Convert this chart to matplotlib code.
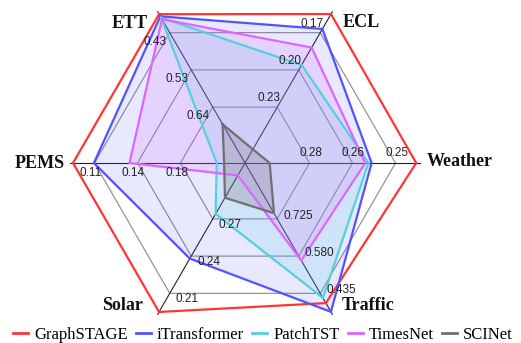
import numpy as np
import matplotlib
matplotlib.use("Agg")
import matplotlib.pyplot as plt

# Datasets, clockwise from the upper-left spoke
categories = ["ETT", "ECL", "Weather", "Traffic", "Solar", "PEMS"]

# Average MSE per dataset (lower is better)
graphstage   = [0.376, 0.157, 0.244, 0.397, 0.195, 0.090]
itransformer = [0.382, 0.169, 0.258, 0.363, 0.238, 0.107]
patchtst     = [0.386, 0.198, 0.259, 0.417, 0.274, 0.207]
timesnet     = [0.390, 0.184, 0.260, 0.563, 0.305, 0.136]
scinet       = [0.686, 0.266, 0.290, 0.747, 0.287, 0.213]

series_names = ["GraphSTAGE", "iTransformer", "PatchTST", "TimesNet", "SCINet"]

# Per-spoke scale: value at the centre and value at the outer rim
center_vals = [0.7955, 0.277, 0.29775, 0.9425, 0.315, 0.230]
rim_vals    = [0.3755, 0.157, 0.24375, 0.3625, 0.195, 0.090]

# Ring labels on each spoke, from inner ring to outer ring
tick_labels = [
    ["0.64", "0.53", "0.43"],
    ["0.23", "0.20", "0.17"],
    ["0.28", "0.26", "0.25"],
    ["0.725", "0.580", "0.435"],
    ["0.27", "0.24", "0.21"],
    ["0.18", "0.14", "0.11"],
]
ring_levels = [0.375, 0.625, 0.875]

colors = ["#ff3535", "#5252ff", "#55d0dc", "#dc66ff", "#707070"]
fill_alpha = [0.0, 0.13, 0.16, 0.17, 0.25]

n = len(categories)
angles = np.deg2rad(120 - 60 * np.arange(n))


def to_radius(values):
    v = np.asarray(values, float)
    c = np.asarray(center_vals)
    r = np.asarray(rim_vals)
    return (c - v) / (c - r)


W, H = 521, 343
fig = plt.figure(figsize=(W / 100, H / 100), dpi=100)
cx, cy, R = 245, H - 163, 172
ax = fig.add_axes([(cx - R) / W, (cy - R) / H, 2 * R / W, 2 * R / H],
                  projection="polar")
ax.set_theta_zero_location("E")
ax.set_ylim(0, 1)
ax.grid(False)
ax.set_xticks([])
ax.set_yticks([])
ax.spines["polar"].set_visible(False)
ax.patch.set_alpha(0)

closed = np.append(angles, angles[0])

# hexagonal rings
for lv in ring_levels:
    ax.plot(closed, [lv] * (n + 1), color="#8a8a8a", lw=0.8, zorder=1,
            clip_on=False)

# spokes
for a in angles:
    ax.plot([a, a], [0, 1.015], color="#1e1e30", lw=0.8, zorder=1,
            clip_on=False)

all_series = [graphstage, itransformer, patchtst, timesnet, scinet]
for name, vals, col, fa in zip(series_names, all_series, colors, fill_alpha):
    r = to_radius(vals)
    rc = np.append(r, r[0])
    if fa > 0:
        ax.fill(closed, rc, color=col, alpha=fa, lw=0, zorder=2,
                clip_on=False)
    ax.plot(closed, rc, color=col, lw=1.6, zorder=3, label=name,
            clip_on=False)

# ring value labels (pixel offsets per spoke)
tick_style = [
    dict(ha="right", va="top", off=(-3, -3)),
    dict(ha="right", va="bottom", off=(3, 3)),
    dict(ha="center", va="bottom", off=(1, 4)),
    dict(ha="left", va="center", off=(6, 3)),
    dict(ha="left", va="top", off=(6, 0)),
    dict(ha="center", va="top", off=(-4, -4)),
]
for a, labs, st in zip(angles, tick_labels, tick_style):
    for lv, lab in zip(ring_levels, labs):
        ax.annotate(lab, xy=(a, lv), xytext=st["off"],
                    textcoords="offset pixels", ha=st["ha"], va=st["va"],
                    fontsize=8.5, family="Liberation Sans", color="#222222",
                    zorder=5)

# spoke names
cat_style = [
    dict(ha="right", off=(-11, -9)),
    dict(ha="left", off=(12, -8)),
    dict(ha="left", off=(10, 1)),
    dict(ha="left", off=(11, 6)),
    dict(ha="right", off=(-16, 6)),
    dict(ha="right", off=(-8, 0)),
]
for a, name, st in zip(angles, categories, cat_style):
    ax.annotate(name, xy=(a, 1.0), xytext=st["off"],
                textcoords="offset pixels", ha=st["ha"], va="center",
                fontsize=13, family="Liberation Serif", fontweight="bold",
                color="#111111")

handles, labels = ax.get_legend_handles_labels()
leg = fig.legend(handles, labels, loc="center", ncol=5,
                 bbox_to_anchor=(263 / W, 8 / H), frameon=False,
                 prop=dict(family="Liberation Serif", size=12),
                 handlelength=0.9, handletextpad=0.35, columnspacing=0.5,
                 borderpad=0, borderaxespad=0)
for line in leg.get_lines():
    line.set_linewidth(2)

fig.savefig("out.png", dpi=100)
